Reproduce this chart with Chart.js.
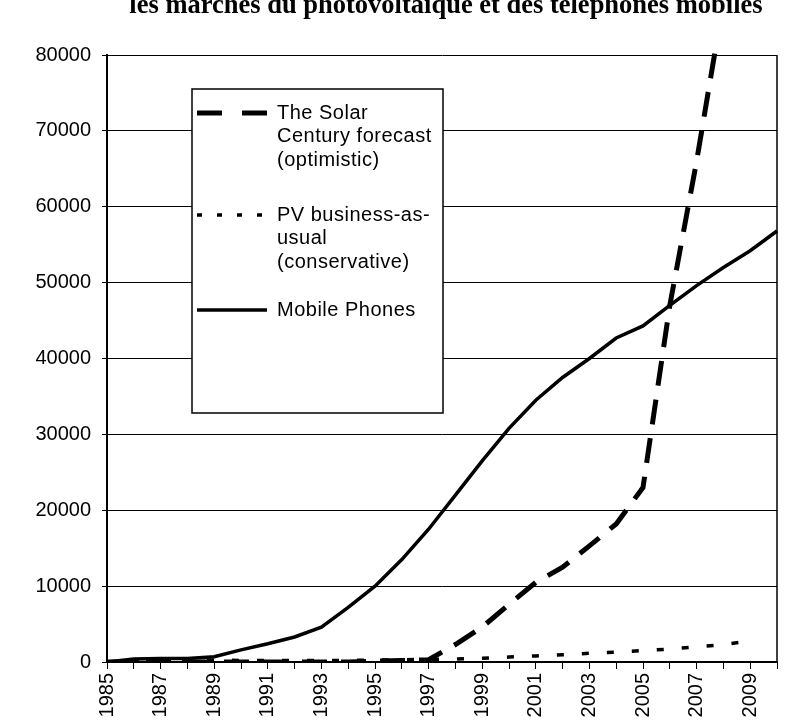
<!DOCTYPE html>
<html>
<head>
<meta charset="utf-8">
<script src="https://cdn.jsdelivr.net/npm/chart.js@4.4.1/dist/chart.umd.min.js"></script>
<style>
  body { margin: 0; background: #fff; }
  canvas { display: block; }
</style>
</head>
<body>
<canvas id="myChart" width="789" height="726"></canvas>
<script>
const titleText = "les marchés du photovoltaïque et des téléphones mobiles";

const years = ["1985", "1986", "1987", "1988", "1989", "1990", "1991", "1992", "1993",
  "1994", "1995", "1996", "1997", "1998", "1999", "2000", "2001", "2002", "2003",
  "2004", "2005", "2006", "2007", "2008", "2009", "2010"];

// values
const solarCentury = [0, 0, 0, 0, 0, 0, 0, 0, 0, 0, 100, 200, 300, 2300, 4600, 7600,
  10500, 12500, 15300, 18200, 23000, 47000, 66000, 87000, null, null];
const pvBusiness = [0, 100, 150, 200, 250, 200, 200, 200, 200, 200, 250, 300, 350, 400,
  500, 650, 800, 950, 1150, 1300, 1500, 1700, 2000, 2300, 2800, null];
const mobilePhones = [0, 400, 450, 450, 700, 1600, 2400, 3300, 4600, 7200, 10000, 13500,
  17500, 22000, 26500, 30800, 34500, 37500, 40000, 42700, 44300, 47000, 49600, 52000,
  54200, 56800];

const yTicks = ["0", "10000", "20000", "30000", "40000", "50000", "60000", "70000", "80000"];

const legendText = [
  ["The Solar", "Century forecast", "(optimistic)"],
  ["PV business-as-", "usual", "(conservative)"],
  ["Mobile Phones"]
];

const sansFont = "'Liberation Sans', Arial, sans-serif";

// title line (top of it is cut off like in the scan)
const titlePlugin = {
  id: "cutTitle",
  afterDraw(chart) {
    const ctx = chart.ctx;
    const ca = chart.chartArea;
    ctx.save();
    ctx.fillStyle = "#000";
    ctx.font = "bold 26.5px 'Liberation Serif', 'Times New Roman', serif";
    ctx.textAlign = "center";
    ctx.textBaseline = "alphabetic";
    ctx.fillText(titleText, (ca.left + ca.right) / 2 + 4, 13);
    ctx.restore();
  }
};

// right border of the plot area
const framePlugin = {
  id: "frame",
  beforeDatasetsDraw(chart) {
    const ctx = chart.ctx;
    const ca = chart.chartArea;
    ctx.save();
    ctx.strokeStyle = "#000";
    ctx.lineWidth = 1.5;
    ctx.beginPath();
    ctx.moveTo(ca.right, ca.top);
    ctx.lineTo(ca.right, ca.bottom);
    ctx.stroke();
    ctx.restore();
  }
};

// boxed legend with wrapped labels, inside the plot
const boxLegend = {
  id: "boxLegend",
  afterDatasetsDraw(chart) {
    const ctx = chart.ctx;
    const ca = chart.chartArea;
    const bx = ca.left + 85, by = ca.top + 34, bw = 251, bh = 324;
    ctx.save();
    ctx.fillStyle = "#fff";
    ctx.fillRect(bx, by, bw, bh);
    ctx.strokeStyle = "#000";
    ctx.lineWidth = 1.5;
    ctx.strokeRect(bx, by, bw, bh);

    const rowY = [by + 24, by + 126, by + 221];
    const lineH = 23.5;
    ctx.font = "20px " + sansFont;
    ctx.letterSpacing = "0.5px";
    ctx.textBaseline = "middle";
    ctx.textAlign = "left";
    chart.data.datasets.forEach((ds, i) => {
      const y = rowY[i];
      ctx.save();
      ctx.strokeStyle = ds.borderColor;
      ctx.lineWidth = ds.borderWidth;
      ctx.setLineDash(ds.legendDash || ds.borderDash || []);
      ctx.beginPath();
      ctx.moveTo(bx + 5, y);
      ctx.lineTo(bx + 75, y);
      ctx.stroke();
      ctx.restore();
      ctx.fillStyle = "#000";
      legendText[i].forEach((t, k) => {
        ctx.fillText(t, bx + 85, y + k * lineH);
      });
    });
    ctx.restore();
  }
};

const ctx = document.getElementById("myChart").getContext("2d");
const chart = new Chart(ctx, {
  type: "line",
  data: {
    labels: years,
    datasets: [
      {
        label: "The Solar Century forecast (optimistic)",
        data: solarCentury,
        borderColor: "#000",
        borderWidth: 5,
        borderDash: [25, 14],
        legendDash: [25, 20],
        borderCapStyle: "butt",
        clip: { left: 0, top: 12, right: 0, bottom: 0 }
      },
      {
        label: "PV business-as-usual (conservative)",
        data: pvBusiness,
        borderColor: "#000",
        borderWidth: 3.5,
        borderDash: [7, 18],
        legendDash: [5, 15],
        borderCapStyle: "butt"
      },
      {
        label: "Mobile Phones",
        data: mobilePhones,
        borderColor: "#000",
        borderWidth: 3.5
      }
    ]
  },
  options: {
    responsive: false,
    animation: false,
    layout: { padding: { top: 55, right: 12, left: 0, bottom: 0 } },
    elements: {
      point: { radius: 0 },
      line: { tension: 0, fill: false }
    },
    plugins: {
      legend: { display: false },
      title: { display: false },
      tooltip: { enabled: false }
    },
    scales: {
      x: {
        type: "category",
        offset: false,
        grid: {
          display: true,
          drawOnChartArea: false,
          drawTicks: true,
          tickLength: 7,
          color: "#000",
          lineWidth: 1
        },
        border: { display: true, color: "#000", width: 2 },
        ticks: {
          autoSkip: false,
          minRotation: 90,
          maxRotation: 90,
          padding: 4,
          color: "#000",
          font: { family: sansFont, size: 20 },
          callback: (v, i) => (i % 2 === 0 ? years[i] : "")
        },
        afterFit: (s) => {
          s.height = 64;
          s.paddingRight = 0;
          s.paddingLeft = 0;
        }
      },
      y: {
        min: 0,
        max: 80000,
        grid: {
          color: "#000",
          lineWidth: 1,
          tickLength: 5
        },
        border: { display: true, color: "#000", width: 2 },
        ticks: {
          stepSize: 10000,
          padding: 11,
          color: "#000",
          font: { family: sansFont, size: 20 },
          callback: (v) => yTicks[Math.round(v / 10000)]
        },
        afterFit: (s) => {
          s.width = 107;
          s.paddingTop = 0;
          s.paddingBottom = 0;
        }
      }
    }
  },
  plugins: [framePlugin, boxLegend, titlePlugin]
});
</script>
</body>
</html>
